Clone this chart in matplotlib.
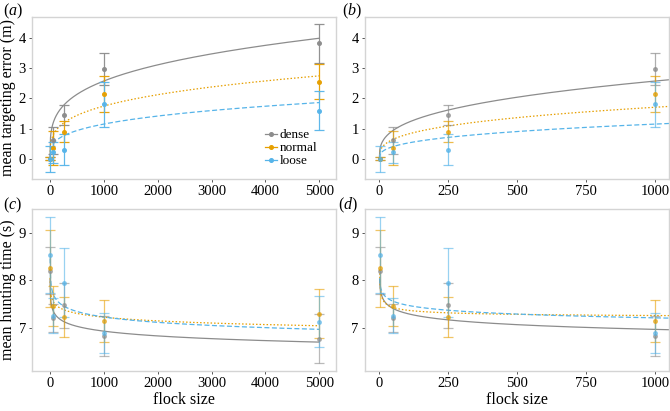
import numpy as np
import matplotlib.pyplot as plt
from matplotlib.lines import Line2D

plt.rcParams['font.family'] = ['Liberation Serif', 'DejaVu Serif']
plt.rcParams['mathtext.fontset'] = 'custom'
plt.rcParams['mathtext.rm'] = 'Liberation Serif'
plt.rcParams['mathtext.it'] = 'Liberation Serif:italic'

# flock sizes used in the simulations
flock = np.array([1, 50, 250, 1000, 5000])
groups = ['dense', 'normal', 'loose']
colors = ['#8c8c8c', '#E69F00', '#56B4E9']
styles = ['-', (0, (1.2, 1.6)), (0, (4, 2))]

# mean targeting error (m) and its error bar half-widths
err_dense = [0.0, 0.61, 1.45, 2.98, 3.83]
err_dense_ci = [0.05, 0.45, 0.33, 0.52, 0.65]
err_normal = [0.0, 0.35, 0.90, 2.14, 2.56]
err_normal_ci = [0.05, 0.57, 0.36, 0.59, 0.58]
err_loose = [-0.01, 0.21, 0.30, 1.80, 1.59]
err_loose_ci = [0.42, 0.36, 0.51, 0.73, 0.65]

# mean hunting time (s) and its error bar half-widths
time_dense = [8.20, 7.21, 7.47, 6.83, 6.77]
time_dense_ci = [0.49, 0.30, 0.47, 0.42, 0.51]
time_normal = [8.25, 7.45, 7.23, 7.14, 7.30]
time_normal_ci = [0.81, 0.42, 0.42, 0.44, 0.51]
time_loose = [8.53, 7.25, 7.95, 6.89, 7.13]
time_loose_ci = [0.80, 0.37, 0.72, 0.42, 0.53]

# fitted curves y = a * x**b + c, (a, b, c) per group
fit_err_all = [(0.394, 0.272, 0.0), (0.251, 0.281, 0.0), (0.146, 0.299, 0.0)]
fit_err_1000 = [(0.253, 0.336, 0.0), (0.181, 0.325, 0.0), (0.104, 0.348, 0.0)]
fit_time_all = [(8.01, -0.021, 0.0), (8.05, -0.0157, 0.0), (8.46, -0.0228, 0.0)]
fit_time_1000 = [(8.02, -0.0204, 0.0), (1.05, -0.36, 7.17), (8.04, -0.0158, 0.0)]

err_means = [err_dense, err_normal, err_loose]
err_cis = [err_dense_ci, err_normal_ci, err_loose_ci]
time_means = [time_dense, time_normal, time_loose]
time_cis = [time_dense_ci, time_normal_ci, time_loose_ci]

W, H = 670, 411
fig = plt.figure(figsize=(W / 100, H / 100), dpi=100)


def make_ax(left, right, top, bottom):
    return fig.add_axes([left / W, 1 - bottom / H, (right - left) / W, (bottom - top) / H])


def draw(ax, means, cis, fits, xmax, x0, ebalpha):
    keep = flock <= xmax
    for i in range(3):
        a, b, c = fits[i]
        xs = np.linspace(x0, xmax, 600)
        ax.plot(xs, a * xs ** b + c, color=colors[i], ls=styles[i], lw=0.9, zorder=2)
    for i in range(3):
        m = np.array(means[i])[keep]
        e = np.array(cis[i])[keep]
        ax.errorbar(flock[keep], m, yerr=e, fmt='o', color=colors[i], ms=2.6,
                    elinewidth=0.9, capsize=3.3, capthick=0.9, alpha=ebalpha, zorder=3)


def style(ax):
    for s in ax.spines.values():
        s.set_color('#d4d4d4')
        s.set_linewidth(1.0)
    ax.tick_params(direction='out', length=2.5, width=0.7, color='#555555',
                   labelsize=10.5, pad=2)


ax_a = make_ax(32, 336, 17, 179)
ax_b = make_ax(365, 669, 17, 179)
ax_c = make_ax(32, 336, 209, 371)
ax_d = make_ax(365, 669, 209, 371)

draw(ax_a, err_means, err_cis, fit_err_all, 5000, 0, 0.95)
draw(ax_b, err_means, err_cis, fit_err_1000, 1050, 0, 0.7)
draw(ax_c, time_means, time_cis, fit_time_all, 5000, 1, 0.6)
draw(ax_d, time_means, time_cis, fit_time_1000, 1050, 1, 0.6)

for ax in (ax_a, ax_b):
    ax.set_ylim(-0.67, 4.7)
    ax.set_yticks([0, 1, 2, 3, 4])
for ax in (ax_c, ax_d):
    ax.set_ylim(6.09, 9.5)
    ax.set_yticks([7, 8, 9])
for ax in (ax_a, ax_c):
    ax.set_xlim(-335, 5310)
    ax.set_xticks([0, 1000, 2000, 3000, 4000, 5000])
for ax in (ax_b, ax_d):
    ax.set_xlim(-52, 1050)
    ax.set_xticks([0, 250, 500, 750, 1000])
for ax in (ax_a, ax_b, ax_c, ax_d):
    style(ax)

ax_a.set_ylabel('mean targeting error (m)', fontsize=11.5, labelpad=2)
ax_c.set_ylabel('mean hunting time (s)', fontsize=11.5, labelpad=2)
ax_c.set_xlabel('flock size', fontsize=11.5, labelpad=1)
ax_d.set_xlabel('flock size', fontsize=11.5, labelpad=1)

handles = [Line2D([], [], color=colors[i], marker='o', ms=2.6, lw=0.9) for i in range(3)]
ax_a.legend(handles, groups, loc='lower right', bbox_to_anchor=(0.955, 0.04),
            frameon=False, fontsize=9.5, handlelength=0.9, handletextpad=0.2,
            labelspacing=0.05, borderaxespad=0)

fig.text(3 / W, 1 - 2 / H, '$(a)$', fontsize=11.5, va='top')
fig.text(342 / W, 1 - 2 / H, '$(b)$', fontsize=11.5, va='top')
fig.text(3 / W, 1 - 196 / H, '$(c)$', fontsize=11.5, va='top')
fig.text(338 / W, 1 - 196 / H, '$(d)$', fontsize=11.5, va='top')

fig.savefig('out.png', dpi=100)
